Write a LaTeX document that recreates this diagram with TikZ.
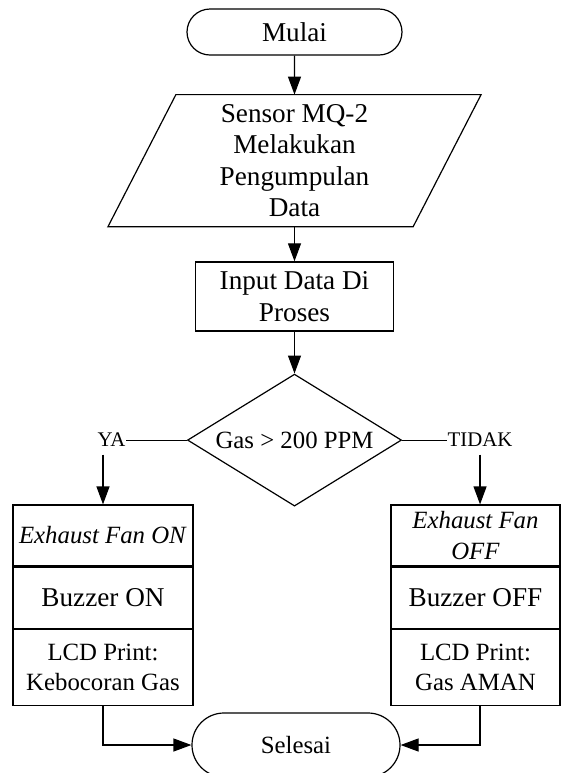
\documentclass[tikz,border=0pt]{standalone}
\usepackage{fontspec}
\setmainfont{Liberation Serif}
\usetikzlibrary{calc}
\usetikzlibrary{positioning}
\usetikzlibrary{shapes.geometric, shapes.misc}
\usetikzlibrary{arrows.meta}

\begin{document}
\begin{tikzpicture}[->, >={Triangle[length=9pt,width=6.5pt]}, line width=0.6pt, font=\fontsize{13.6}{15.8}\selectfont]
	\tikzstyle{term}=[draw, rounded rectangle, inner sep=0pt]
	\tikzstyle{io}=[rectangle, minimum width=186pt, minimum height=65.5pt, inner sep=0pt, align=center]
	\tikzstyle{proses}=[draw, rectangle, inner sep=0pt, align=center]
	\tikzstyle{cabang}=[draw, diamond, aspect=1.62, inner sep=0pt, minimum width=107pt, minimum height=66pt]
	\tikzstyle{kecil}=[font=\fontsize{12.4}{15.2}\selectfont]
	\tikzstyle{teks}=[font=\fontsize{10.4}{12}\selectfont, inner xsep=0pt, inner ysep=3.5pt]

	\path[use as bounding box, clip] (0,0) rectangle (280.5pt,-386.5pt);

	\node[term, minimum width=107.5pt, minimum height=23pt] (mulai) at (147.25pt,-16pt) {Mulai};
	\node[io, below=19.5pt of mulai] (data) {Sensor MQ-2\\Melakukan\\Pengumpulan\\Data};
	% jajaran genjang input/output
	\draw[-] ($(data.north west)+(34pt,0)$) -- (data.north east) -- ($(data.south east)-(34pt,0)$) -- (data.south west) -- cycle;
	\node[proses, below=17.25pt of data, minimum width=99pt, minimum height=34.5pt] (input) {Input Data Di\\Proses};
	\node[cabang, kecil, below=21pt of input] (cek) {Gas > 200 PPM};

	\node[teks, left=30.5pt of cek] (ya) {YA};
	\node[teks, right=22.5pt of cek] (tidak) {TIDAK};

	% cabang YA
	\node[proses, kecil, minimum width=90pt, minimum height=30.5pt] (exon) at (51.5pt,-267.75pt) {\textit{Exhaust Fan ON}};
	\node[proses, below=0pt of exon, minimum width=90pt, minimum height=30.5pt] (buzon) {Buzzer ON};
	\node[proses, kecil, below=0pt of buzon, minimum width=90pt, minimum height=38pt] (lcdon) {LCD Print:\\Kebocoran Gas};

	% cabang TIDAK
	\node[proses, kecil, minimum width=84.5pt, minimum height=30.5pt] (exoff) at (237.75pt,-267.75pt) {\textit{Exhaust Fan}\\\textit{OFF}};
	\node[proses, below=0pt of exoff, minimum width=84.5pt, minimum height=30.5pt] (buzoff) {Buzzer OFF};
	\node[proses, kecil, below=0pt of buzoff, minimum width=84.5pt, minimum height=38pt] (lcdoff) {LCD Print:\\Gas AMAN};

	\node[term, kecil, minimum width=104pt, minimum height=32pt] (selesai) at (148pt,-372.5pt) {Selesai};

	\draw[-, line width=1.3pt] (exon.south west) -- (exon.south east);
	\draw[-, line width=1.3pt] (exoff.south west) -- (exoff.south east);

	\path (mulai) edge (data);
	\path (data) edge (input);
	\path (input) edge (cek);
	\draw[-] (cek) -- (ya);
	\draw[-] (cek) -- (tidak);
	\draw (exon.north |- ya.south) -- (exon.north);
	\draw (tidak.south) -- (tidak.south |- exoff.north);
	\draw (lcdon.south) |- (selesai.west);
	\draw (lcdoff.south -| tidak.south) |- (selesai.east);
\end{tikzpicture}
\end{document}
